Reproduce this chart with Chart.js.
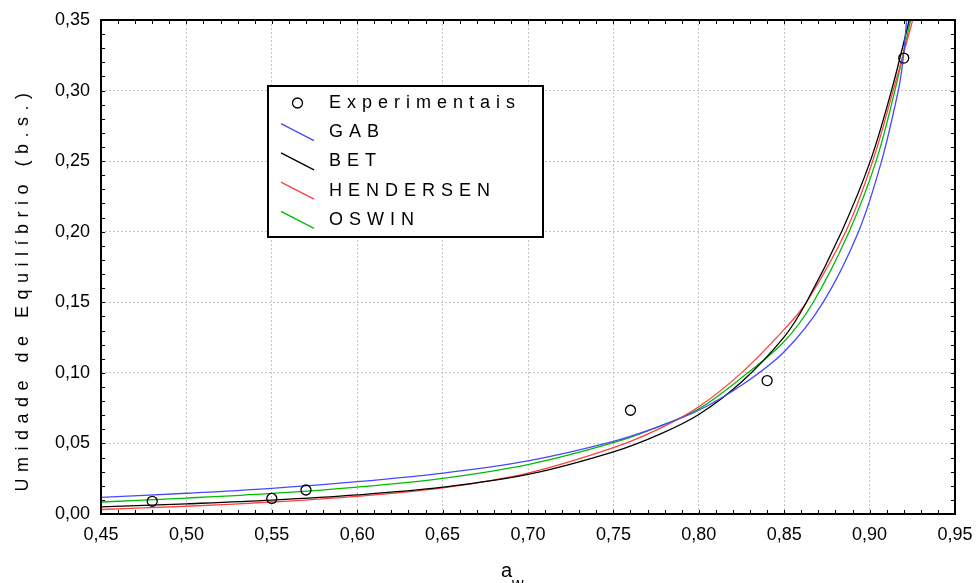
<!DOCTYPE html>
<html>
<head>
<meta charset="utf-8">
<script src="https://cdn.jsdelivr.net/npm/chart.js@4"></script>
<style>
  body { margin: 0; background: #fff; }
  #wrap { width: 976px; height: 583px; }
</style>
</head>
<body>
<div id="wrap"><canvas id="isoChart" width="976" height="583"></canvas></div>
<script>
// experimental points
var expAw = [0.48, 0.55, 0.57, 0.76, 0.84, 0.92];
var expUe = [0.009, 0.011, 0.017, 0.0735, 0.0945, 0.323];

// fitted curves
var gabAw = [0.45, 0.50, 0.55, 0.60, 0.65, 0.70, 0.75, 0.7773, 0.80, 0.825, 0.85, 0.8728, 0.8935, 0.907, 0.9168, 0.9193, 0.9217, 0.9232];
var gabUe = [0.0118, 0.0147, 0.0182, 0.0229, 0.0290, 0.0377, 0.0515, 0.0623, 0.0735, 0.0912, 0.1150, 0.1500, 0.2000, 0.2500, 0.3000, 0.3190, 0.3500, 0.3700];

var betAw = [0.45, 0.50, 0.55, 0.60, 0.65, 0.70, 0.75, 0.7773, 0.80, 0.825, 0.85, 0.863, 0.8836, 0.9004, 0.9128, 0.9232, 0.9248];
var betUe = [0.0050, 0.0072, 0.0098, 0.0135, 0.0190, 0.0280, 0.0440, 0.0566, 0.0705, 0.0935, 0.1255, 0.1500, 0.2000, 0.2500, 0.3000, 0.3500, 0.3600];

var henAw = [0.45, 0.50, 0.55, 0.60, 0.65, 0.70, 0.75, 0.7773, 0.80, 0.825, 0.85, 0.863, 0.886, 0.9018, 0.9138, 0.9252, 0.9268];
var henUe = [0.0032, 0.0055, 0.0085, 0.0125, 0.0185, 0.0290, 0.0470, 0.0607, 0.0760, 0.1000, 0.1308, 0.1500, 0.2000, 0.2500, 0.3000, 0.3500, 0.3600];

var oswAw = [0.45, 0.50, 0.55, 0.60, 0.65, 0.70, 0.75, 0.7773, 0.80, 0.825, 0.85, 0.867, 0.888, 0.9038, 0.9148, 0.924, 0.9255];
var oswUe = [0.0085, 0.0113, 0.0146, 0.0191, 0.0253, 0.0350, 0.0505, 0.0623, 0.0745, 0.0965, 0.1222, 0.1500, 0.2000, 0.2500, 0.3000, 0.3500, 0.3600];

var legendLabels = ['Experimentais', 'GAB', 'BET', 'HENDERSEN', 'OSWIN'];
var yTitle = 'Umidade de Equilíbrio (b.s.)';

var FONT = '"Liberation Sans", Arial, sans-serif';
Chart.defaults.font.family = FONT;

function pts(xs, ys) {
    return xs.map(function (v, i) { return { x: v, y: ys[i] }; });
}

function curve(label, xs, ys, color) {
    return {
        type: 'line',
        label: label,
        data: pts(xs, ys),
        borderColor: color,
        borderWidth: 1.3,
        pointRadius: 0,
        fill: false,
        tension: 0.35
    };
}

var comma = function (v) { return v.toFixed(2).replace('.', ','); };

// frame, inward ticks, titles and the boxed legend
var decor = {
    id: 'decor',
    afterDraw: function (chart) {
        var ctx = chart.ctx, a = chart.chartArea;
        var xs = chart.scales.x, ys = chart.scales.y;
        ctx.save();
        ctx.strokeStyle = '#000';
        ctx.lineWidth = 1;
        ctx.beginPath();
        for (var i = 0; i <= 50; i++) {
            var px = Math.round(xs.getPixelForValue(0.45 + i * 0.01)) + 0.5;
            ctx.moveTo(px, a.bottom); ctx.lineTo(px, a.bottom - 4);
            ctx.moveTo(px, a.top); ctx.lineTo(px, a.top + 4);
        }
        for (var j = 0; j <= 35; j++) {
            var py = Math.round(ys.getPixelForValue(j * 0.01)) + 0.5;
            ctx.moveTo(a.left, py); ctx.lineTo(a.left + 4, py);
            ctx.moveTo(a.right, py); ctx.lineTo(a.right - 4, py);
        }
        ctx.stroke();
        ctx.lineWidth = 2;
        ctx.strokeRect(a.left, a.top, a.right - a.left, a.bottom - a.top);

        // axis titles
        ctx.fillStyle = '#000';
        ctx.save();
        ctx.translate(23, 289);
        ctx.rotate(-Math.PI / 2);
        ctx.font = '18px ' + FONT;
        ctx.letterSpacing = '6.5px';
        ctx.textAlign = 'center';
        ctx.textBaseline = 'middle';
        ctx.fillText(yTitle, 0, 0);
        ctx.restore();

        ctx.textAlign = 'left';
        ctx.textBaseline = 'alphabetic';
        ctx.font = '20px ' + FONT;
        ctx.fillText('a', 501, 577);
        ctx.font = '16px ' + FONT;
        ctx.fillText('w', 512, 589);

        // legend box
        var bx = 268, by = 86, bw = 275, bh = 151;
        ctx.fillStyle = '#fff';
        ctx.fillRect(bx, by, bw, bh);
        ctx.lineWidth = 2;
        ctx.strokeStyle = '#000';
        ctx.strokeRect(bx, by, bw, bh);
        var ds = chart.data.datasets;
        ctx.font = '18px ' + FONT;
        ctx.letterSpacing = '6px';
        ctx.textBaseline = 'middle';
        for (var k = 0; k < ds.length; k++) {
            var cy = by + 17 + k * 29.2;
            ctx.beginPath();
            ctx.lineWidth = 1.3;
            if (k === 0) {
                ctx.strokeStyle = '#000';
                ctx.arc(297.5, cy, 5, 0, Math.PI * 2);
            } else {
                ctx.strokeStyle = ds[k].borderColor;
                ctx.moveTo(281, cy - 8.5);
                ctx.lineTo(314, cy + 8.5);
            }
            ctx.stroke();
            ctx.fillStyle = '#000';
            ctx.fillText(ds[k].label, 329, cy);
        }
        ctx.restore();
    }
};

var ctx = document.getElementById('isoChart').getContext('2d');
var myChart = new Chart(ctx, {
    type: 'scatter',
    data: {
        datasets: [
            {
                label: legendLabels[0],
                data: pts(expAw, expUe),
                pointStyle: 'circle',
                pointRadius: 5,
                pointHoverRadius: 5,
                pointBorderWidth: 1.3,
                borderColor: '#000',
                backgroundColor: 'rgba(0,0,0,0)',
                showLine: false
            },
            curve(legendLabels[1], gabAw, gabUe, '#4848ff'),
            curve(legendLabels[2], betAw, betUe, '#000000'),
            curve(legendLabels[3], henAw, henUe, '#ff4040'),
            curve(legendLabels[4], oswAw, oswUe, '#00bb00')
        ]
    },
    options: {
        responsive: false,
        animation: false,
        layout: { padding: { left: 0, right: 21, top: 20, bottom: 0 } },
        plugins: {
            legend: { display: false },
            tooltip: { enabled: false }
        },
        scales: {
            x: {
                type: 'linear',
                min: 0.45,
                max: 0.95,
                afterFit: function (s) { s.height = 69; s.paddingLeft = 0; s.paddingRight = 0; },
                ticks: {
                    stepSize: 0.05,
                    padding: 10,
                    color: '#000',
                    font: { size: 18 },
                    callback: comma
                },
                grid: { color: '#c4c4c4', lineWidth: 1, drawTicks: false },
                border: { display: false, dash: [2, 2] }
            },
            y: {
                type: 'linear',
                min: 0,
                max: 0.35,
                afterFit: function (s) { s.width = 101; s.paddingTop = 0; s.paddingBottom = 0; },
                ticks: {
                    stepSize: 0.05,
                    padding: 11,
                    color: '#000',
                    font: { size: 18 },
                    callback: comma
                },
                grid: { color: '#c4c4c4', lineWidth: 1, drawTicks: false },
                border: { display: false, dash: [2, 2] }
            }
        }
    },
    plugins: [decor]
});
</script>
</body>
</html>
